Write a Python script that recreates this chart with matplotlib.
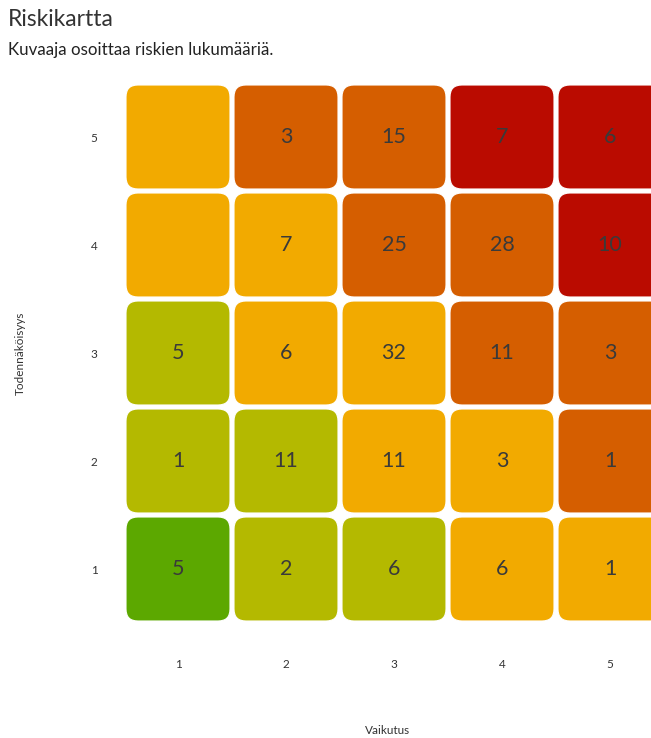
import matplotlib.pyplot as plt
from matplotlib.patches import FancyBboxPatch

plt.rcParams['font.family'] = ['Lato', 'DejaVu Sans']

# risk counts, rows from probability 5 (top) to 1 (bottom), columns impact 1..5
impact = [1, 2, 3, 4, 5]
probability = [5, 4, 3, 2, 1]
counts = [
    [None, 3, 15, 7, 6],
    [None, 7, 25, 28, 10],
    [5, 6, 32, 11, 3],
    [1, 11, 11, 3, 1],
    [5, 2, 6, 6, 1],
]
# risk level for each cell colour (0 = lowest)
levels = [
    [2, 3, 3, 4, 4],
    [2, 2, 3, 3, 4],
    [1, 2, 2, 3, 3],
    [1, 1, 2, 2, 3],
    [0, 1, 1, 2, 2],
]
level_colors = ['#5CA800', '#B4B900', '#F2AA00', '#D55E00', '#BA0B00']

W, H = 651, 738
fig = plt.figure(figsize=(W / 100, H / 100), dpi=100)
ax = fig.add_axes([124 / W, (H - 623) / H, 540 / W, 540 / H])

size = 0.963
rad = 0.11
for i, p in enumerate(probability):
    for j, x in enumerate(impact):
        box = FancyBboxPatch((x - size / 2 + rad, p - size / 2 + rad),
                             size - 2 * rad, size - 2 * rad,
                             boxstyle="round,pad=%f" % rad,
                             facecolor=level_colors[levels[i][j]],
                             edgecolor='white', linewidth=0.8, clip_on=False)
        ax.add_patch(box)
        if counts[i][j] is not None:
            ax.text(x, p, str(counts[i][j]), ha='center', va='center',
                    fontsize=15.5, color='#3a3a3a', clip_on=False)

ax.set_xlim(0.5, 5.5)
ax.set_ylim(0.5, 5.5)
ax.set_xticks(impact)
ax.set_yticks(probability)
ax.tick_params(length=0, labelsize=8.5, labelcolor='#333333')
ax.tick_params(axis='x', pad=26)
ax.tick_params(axis='y', pad=19)
for s in ax.spines.values():
    s.set_visible(False)

fig.text(8 / W, 1 - 20 / H, "Riskikartta", fontsize=16.5, color='#333333',
         va='center', ha='left')
fig.text(8 / W, 1 - 50 / H, "Kuvaaja osoittaa riskien lukumääriä.",
         fontsize=12.2, color='#222222', va='center', ha='left')
fig.text(388 / W, 1 - 731 / H, "Vaikutus", fontsize=8.5, color='#333333',
         ha='center', va='center')
fig.text(20 / W, 1 - 353 / H, "Todennäköisyys", fontsize=8.5, color='#333333',
         ha='center', va='center', rotation=90)

fig.savefig("out.png", dpi=100)
